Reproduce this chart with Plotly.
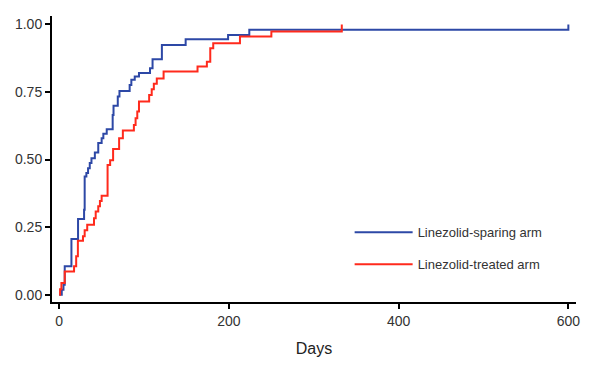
import plotly.graph_objects as go

# Linezolid-sparing arm (cumulative proportion, step function)
sparing_days = [0, 3, 5, 6.5, 14.4, 22.2, 29.3, 30, 32, 34, 36, 38, 42, 46, 50, 52, 56,
                63, 64, 69, 71, 83, 85, 89, 94, 107, 110, 121, 149, 199, 224, 600]
sparing_vals = [0, 0.018, 0.037, 0.105, 0.206, 0.28, 0.314, 0.437, 0.45, 0.468, 0.487,
                0.505, 0.526, 0.561, 0.579, 0.595, 0.612, 0.665, 0.699, 0.733, 0.754,
                0.776, 0.795, 0.807, 0.82, 0.838, 0.871, 0.924, 0.945, 0.961, 0.98, 1.0]

# Linezolid-treated arm
treated_days = [0, 1, 2.6, 6.5, 17.5, 20, 22, 28, 30, 33, 41, 43, 46, 48, 50, 57, 60,
                63.5, 70.6, 75, 88, 90, 92, 94, 106, 109, 111.5, 115, 123, 163, 174,
                178, 181.5, 213, 250, 333]
treated_vals = [0, 0.02, 0.043, 0.086, 0.105, 0.142, 0.2, 0.216, 0.238, 0.259, 0.283,
                0.308, 0.327, 0.347, 0.366, 0.48, 0.497, 0.539, 0.579, 0.607, 0.628,
                0.653, 0.678, 0.715, 0.739, 0.76, 0.78, 0.80, 0.826, 0.844, 0.862,
                0.912, 0.93, 0.955, 0.974, 1.0]

x_ticks = [0, 200, 400, 600]
y_ticks = [0, 0.25, 0.5, 0.75, 1.0]
y_tick_labels = ["0.00", "0.25", "0.50", "0.75", "1.00"]

FONT = "Liberation Sans, Arial, sans-serif"
BLUE = "#2D48A6"
RED = "#FF2A1C"

fig = go.Figure()
fig.add_trace(go.Scatter(x=sparing_days, y=sparing_vals, mode="lines",
                         line=dict(color=BLUE, width=2, shape="hv"),
                         name="Linezolid-sparing arm", legendgroup="a"))
fig.add_trace(go.Scatter(x=treated_days, y=treated_vals, mode="lines",
                         line=dict(color=RED, width=2, shape="hv"),
                         name="Linezolid-treated arm", legendgroup="b"))

axis_common = dict(showgrid=False, zeroline=False, showline=True, linecolor="black",
                   linewidth=2, ticks="outside", ticklen=5, tickwidth=1.5,
                   tickcolor="black", tickfont=dict(family=FONT, size=14, color="#333333"))

fig.update_layout(
    width=600, height=366,
    margin=dict(l=52, r=24, t=16, b=64),
    plot_bgcolor="white", paper_bgcolor="white",
    font=dict(family=FONT, size=13, color="#333333"),
    xaxis=dict(range=[-8.5, 609], tickvals=x_ticks,
               title=dict(text="Days", font=dict(family=FONT, size=16, color="#222222"),
                          standoff=15),
               **axis_common),
    yaxis=dict(range=[-0.027, 1.031], tickvals=y_ticks, ticktext=y_tick_labels,
               **axis_common),
    legend=dict(x=0.568, y=0.296, xanchor="left", yanchor="top",
                bgcolor="rgba(0,0,0,0)", itemwidth=58, tracegroupgap=12,
                traceorder="grouped",
                font=dict(family=FONT, size=13, color="#333333")),
    showlegend=True,
)

fig.write_html("out.html",
               config={"displayModeBar": False},
               post_script="document.body.style.margin='0';document.body.style.padding='0';")
